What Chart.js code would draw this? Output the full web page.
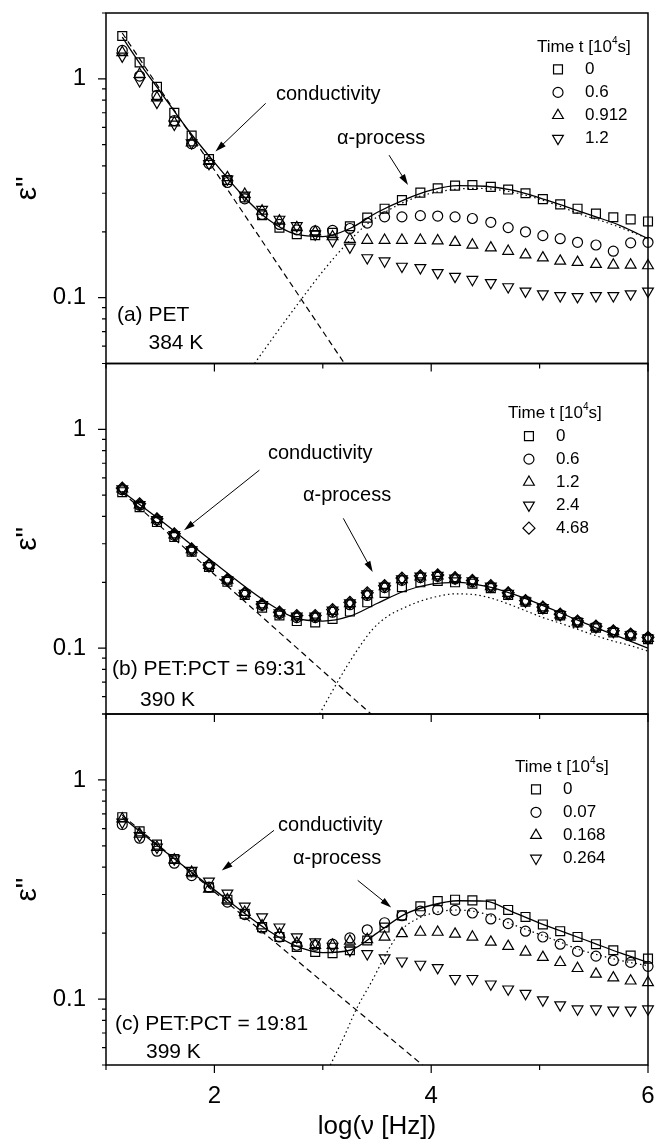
<!DOCTYPE html>
<html>
<head>
<meta charset="utf-8">
<script src="https://cdn.jsdelivr.net/npm/chart.js@4.4.1/dist/chart.umd.min.js"></script>
<style>
  html, body { margin: 0; padding: 0; background: #fff; overflow: hidden; }
  #wrap { position: relative; width: 656px; height: 1142px; }
  #wrap canvas { position: absolute; left: 0; top: 0; }
</style>
</head>
<body>
<div id="wrap">
  <canvas id="panel-a" width="656" height="1142"></canvas>
  <canvas id="panel-b" width="656" height="1142"></canvas>
  <canvas id="panel-c" width="656" height="1142"></canvas>
</div>
<script>
// --- measured frequencies, log(nu [Hz]) ---
const logFreq = [1.15, 1.31, 1.47, 1.63, 1.79, 1.95, 2.12, 2.28, 2.44, 2.60, 2.76, 2.93, 3.09, 3.25, 3.41,
                 3.57, 3.73, 3.90, 4.06, 4.22, 4.38, 4.55, 4.71, 4.87, 5.03, 5.19, 5.35, 5.52, 5.68, 5.84, 6.00];

// --- (a) PET, 384 K ---
const aTimes = ['0', '0.6', '0.912', '1.2'];
const aT0    = [1.57, 1.19, 0.92, 0.70, 0.55, 0.43, 0.345, 0.287, 0.238, 0.209, 0.195, 0.193, 0.198, 0.212, 0.232,
                0.255, 0.279, 0.302, 0.316, 0.325, 0.327, 0.321, 0.312, 0.300, 0.282, 0.267, 0.255, 0.242, 0.233, 0.228, 0.223];
const aT06   = [1.35, 1.03, 0.84, 0.645, 0.505, 0.41, 0.336, 0.283, 0.240, 0.216, 0.204, 0.202, 0.203, 0.207, 0.219,
                0.234, 0.234, 0.237, 0.236, 0.234, 0.230, 0.221, 0.209, 0.200, 0.192, 0.186, 0.179, 0.174, 0.163, 0.178, 0.179];
const aT0912 = [1.32, 1.05, 0.82, 0.63, 0.51, 0.42, 0.354, 0.297, 0.249, 0.224, 0.209, 0.200, 0.190, 0.185, 0.183,
                0.183, 0.183, 0.183, 0.182, 0.179, 0.174, 0.169, 0.163, 0.157, 0.152, 0.147, 0.145, 0.142, 0.141, 0.141, 0.140];
const aT12   = [1.27, 0.98, 0.78, 0.62, 0.51, 0.41, 0.348, 0.294, 0.253, 0.228, 0.213, 0.195, 0.182, 0.170, 0.152,
                0.147, 0.139, 0.137, 0.130, 0.125, 0.121, 0.117, 0.112, 0.107, 0.104, 0.102, 0.101, 0.102, 0.102, 0.104, 0.107];
const aFitX  = [1.15, 1.3, 1.5, 1.75, 2.0, 2.25, 2.5, 2.75, 3.0, 3.25, 3.5, 3.75, 4.0, 4.25, 4.5, 4.75, 5.0, 5.25, 5.5, 5.75, 6.0];
const aFitY  = [1.55, 1.2, 0.875, 0.59, 0.415, 0.297, 0.227, 0.195, 0.19, 0.207, 0.245, 0.28, 0.31, 0.325, 0.323, 0.31, 0.286, 0.26, 0.236, 0.213, 0.186];
const aAlphaX = [2.37, 2.6, 2.8, 3.0, 3.2, 3.4, 3.6, 3.8, 4.0, 4.2, 4.4, 4.6, 4.8, 5.0, 5.2, 5.4, 5.6, 5.8, 6.0];
const aAlphaY = [0.05, 0.072, 0.098, 0.132, 0.172, 0.215, 0.25, 0.28, 0.3, 0.312, 0.316, 0.312, 0.3, 0.282, 0.26, 0.238, 0.222, 0.204, 0.186];
const aCondX = [1.15, 3.2];
const aCondY = [1.62, 0.05];

// --- (b) PET:PCT = 69:31, 390 K ---
const bTimes = ['0', '0.6', '1.2', '2.4', '4.68'];
const bT0    = [0.516, 0.441, 0.377, 0.322, 0.276, 0.235, 0.201, 0.175, 0.153, 0.141, 0.133, 0.131, 0.136, 0.147, 0.162,
                0.179, 0.190, 0.200, 0.203, 0.200, 0.197, 0.188, 0.175, 0.163, 0.151, 0.141, 0.131, 0.124, 0.118, 0.114, 0.110];
const bT06   = [0.53, 0.45, 0.385, 0.328, 0.28, 0.238, 0.204, 0.177, 0.157, 0.144, 0.138, 0.138, 0.146, 0.158, 0.174,
                0.189, 0.204, 0.21, 0.213, 0.207, 0.201, 0.19, 0.177, 0.164, 0.153, 0.142, 0.132, 0.125, 0.119, 0.115, 0.111];
const bT12   = [0.535, 0.452, 0.387, 0.33, 0.282, 0.239, 0.205, 0.178, 0.158, 0.145, 0.139, 0.139, 0.148, 0.16, 0.176,
                0.191, 0.206, 0.212, 0.214, 0.208, 0.202, 0.191, 0.178, 0.164, 0.153, 0.142, 0.132, 0.125, 0.119, 0.115, 0.111];
const bT24   = [0.534, 0.453, 0.386, 0.33, 0.281, 0.238, 0.205, 0.178, 0.158, 0.145, 0.14, 0.14, 0.149, 0.161, 0.177,
                0.192, 0.207, 0.213, 0.215, 0.209, 0.203, 0.192, 0.178, 0.164, 0.153, 0.142, 0.132, 0.125, 0.119, 0.115, 0.111];
const bT468  = [0.539, 0.457, 0.390, 0.333, 0.284, 0.240, 0.206, 0.179, 0.159, 0.146, 0.141, 0.141, 0.150, 0.162, 0.179,
                0.193, 0.209, 0.214, 0.216, 0.210, 0.204, 0.193, 0.179, 0.165, 0.154, 0.143, 0.133, 0.126, 0.120, 0.116, 0.112];
const bFitX  = [1.15, 1.5, 2.0, 2.5, 2.75, 3.0, 3.25, 3.5, 3.75, 4.0, 4.25, 4.5, 4.75, 5.0, 5.25, 5.5, 5.75, 6.0];
const bFitY  = [0.52, 0.385, 0.245, 0.16, 0.137, 0.133, 0.14, 0.16, 0.182, 0.196, 0.2, 0.192, 0.177, 0.159, 0.141, 0.125, 0.112, 0.1];
const bAlphaX = [2.97, 3.15, 3.3, 3.46, 3.6, 3.75, 3.9, 4.05, 4.22, 4.38, 4.54, 4.7, 4.86, 5.03, 5.19, 5.35, 5.52, 5.67, 5.83, 6.0];
const bAlphaY = [0.05, 0.072, 0.095, 0.122, 0.14, 0.153, 0.164, 0.172, 0.177, 0.176, 0.170, 0.160, 0.149, 0.138, 0.130, 0.122, 0.114, 0.108, 0.103, 0.097];
const bCondX = [1.15, 3.445];
const bCondY = [0.515, 0.05];

// --- (c) PET:PCT = 19:81, 399 K ---
const cTimes = ['0', '0.07', '0.168', '0.264'];
const cT0    = [0.676, 0.583, 0.507, 0.436, 0.379, 0.324, 0.284, 0.245, 0.213, 0.192, 0.173, 0.164, 0.162, 0.167, 0.185,
                0.212, 0.241, 0.265, 0.280, 0.284, 0.282, 0.270, 0.255, 0.237, 0.219, 0.204, 0.192, 0.178, 0.167, 0.158, 0.153];
const cT007  = [0.626, 0.542, 0.473, 0.417, 0.366, 0.324, 0.277, 0.243, 0.211, 0.192, 0.176, 0.176, 0.178, 0.190, 0.207,
                0.223, 0.240, 0.252, 0.256, 0.254, 0.247, 0.232, 0.221, 0.204, 0.192, 0.178, 0.165, 0.157, 0.150, 0.147, 0.141];
const cT0168 = [0.664, 0.567, 0.493, 0.432, 0.379, 0.318, 0.284, 0.249, 0.216, 0.198, 0.180, 0.176, 0.176, 0.184, 0.187,
                0.192, 0.199, 0.202, 0.202, 0.198, 0.192, 0.182, 0.174, 0.164, 0.155, 0.147, 0.138, 0.130, 0.125, 0.121, 0.119];
const cT0264 = [0.641, 0.557, 0.493, 0.436, 0.386, 0.345, 0.304, 0.265, 0.237, 0.213, 0.192, 0.182, 0.174, 0.167, 0.161,
                0.154, 0.149, 0.144, 0.139, 0.124, 0.124, 0.117, 0.111, 0.106, 0.099, 0.094, 0.090, 0.090, 0.089, 0.089, 0.090];
const cFitX  = [1.15, 1.5, 2.0, 2.5, 2.75, 3.0, 3.25, 3.5, 3.75, 4.0, 4.25, 4.5, 4.75, 5.0, 5.25, 5.5, 5.75, 6.0];
const cFitY  = [0.675, 0.49, 0.315, 0.205, 0.175, 0.163, 0.167, 0.2, 0.243, 0.268, 0.281, 0.28, 0.25, 0.222, 0.2, 0.18, 0.162, 0.147];
const cAlphaX = [3.07, 3.2, 3.31, 3.45, 3.62, 3.74, 3.9, 4.05, 4.22, 4.38, 4.54, 4.7, 4.86, 5.03, 5.19, 5.35, 5.52, 5.67, 5.83, 6.0];
const cAlphaY = [0.05, 0.068, 0.09, 0.12, 0.173, 0.21, 0.236, 0.249, 0.255, 0.252, 0.241, 0.224, 0.209, 0.195, 0.182, 0.169, 0.16, 0.153, 0.147, 0.142];
const cCondX = [1.15, 3.92];
const cCondY = [0.69, 0.05];

// --- axes ---
const xTicks = [1, 2, 3, 4, 5, 6];
const xLabelled = [2, 4, 6];
const yTicks = [0.05, 0.06, 0.07, 0.08, 0.09, 0.1, 0.2, 0.3, 0.4, 0.5, 0.6, 0.7, 0.8, 0.9, 1, 2];
const yLabelled = [0.1, 1];

const FONT = '"Liberation Sans", Arial, Helvetica, sans-serif';
const W = 656, H = 1142;

const markerStyles = {
  square:   { pointStyle: 'rect', rotation: 0, radius: 6.3 },
  circle:   { pointStyle: 'circle', rotation: 0, radius: 5 },
  triUp:    { pointStyle: 'triangle', rotation: 0, radius: 6.2 },
  triDown:  { pointStyle: 'triangle', rotation: 180, radius: 6.2 },
  diamond:  { pointStyle: 'rectRot', rotation: 0, radius: 6 }
};

const pairs = (xs, ys) => xs.map((x, i) => ({ x: x, y: ys[i] }));

function markerSet(label, ys, kind) {
  const m = markerStyles[kind];
  return {
    label: label,
    data: pairs(logFreq, ys),
    showLine: false,
    pointStyle: m.pointStyle,
    rotation: m.rotation,
    pointRadius: m.radius,
    pointBorderWidth: 1.2,
    pointBorderColor: '#000',
    pointBackgroundColor: 'rgba(0,0,0,0)',
    clip: false,
    _kind: kind
  };
}

function curve(xs, ys, dash, width) {
  return {
    data: pairs(xs, ys),
    showLine: true,
    borderColor: '#000',
    borderWidth: width,
    borderDash: dash,
    pointRadius: 0,
    cubicInterpolationMode: 'monotone'
  };
}

function drawMarker(ctx, kind, x, y) {
  const m = markerStyles[kind];
  if (Chart.helpers && Chart.helpers.drawPoint) {
    Chart.helpers.drawPoint(ctx, { pointStyle: m.pointStyle, rotation: m.rotation, radius: m.radius, borderWidth: 1.2 }, x, y);
    return;
  }
  const r = m.radius;
  ctx.beginPath();
  if (kind === 'circle') ctx.arc(x, y, r, 0, Math.PI * 2);
  else if (kind === 'square') ctx.rect(x - r * 0.707, y - r * 0.707, r * 1.414, r * 1.414);
  else if (kind === 'diamond') { ctx.moveTo(x, y - r); ctx.lineTo(x + r, y); ctx.lineTo(x, y + r); ctx.lineTo(x - r, y); ctx.closePath(); }
  else {
    const s = kind === 'triDown' ? -1 : 1;
    ctx.moveTo(x, y - s * r); ctx.lineTo(x + r * 0.866, y + s * r / 2); ctx.lineTo(x - r * 0.866, y + s * r / 2); ctx.closePath();
  }
  ctx.stroke();
}

// frame, outward ticks, annotations and the time legend
function panelDecor(notes) {
  return {
    id: 'panelDecor',
    afterDraw(chart) {
      const { ctx, chartArea: a } = chart;
      const x = chart.scales.x, y = chart.scales.y;
      ctx.save();
      ctx.strokeStyle = '#000';
      ctx.fillStyle = '#000';

      ctx.lineWidth = 1.5;
      ctx.beginPath();
      ctx.rect(a.left, a.top, a.right - a.left, a.bottom - a.top);
      ctx.stroke();

      ctx.lineWidth = 1.2;
      ctx.beginPath();
      yTicks.forEach(v => {
        const py = y.getPixelForValue(v);
        const len = yLabelled.includes(v) ? 8 : 4;
        ctx.moveTo(a.left - len, py);
        ctx.lineTo(a.left, py);
      });
      xTicks.forEach(v => {
        const px = x.getPixelForValue(v);
        const len = xLabelled.includes(v) ? 8 : 5;
        ctx.moveTo(px, a.bottom);
        ctx.lineTo(px, a.bottom + len);
      });
      ctx.stroke();

      ctx.textBaseline = 'middle';
      ctx.textAlign = 'left';
      notes.texts.forEach(t => {
        ctx.font = t.size + 'px ' + FONT;
        ctx.fillText(t.text, x.getPixelForValue(t.x), y.getPixelForValue(t.y));
      });

      ctx.lineWidth = 1;
      notes.arrows.forEach(ar => {
        const x1 = x.getPixelForValue(ar.x1), y1 = y.getPixelForValue(ar.y1);
        const x2 = x.getPixelForValue(ar.x2), y2 = y.getPixelForValue(ar.y2);
        const ang = Math.atan2(y2 - y1, x2 - x1);
        const L = 11, hw = 3.3;
        ctx.beginPath();
        ctx.moveTo(x1, y1);
        ctx.lineTo(x2 - Math.cos(ang) * 4, y2 - Math.sin(ang) * 4);
        ctx.stroke();
        ctx.beginPath();
        ctx.moveTo(x2, y2);
        ctx.lineTo(x2 - L * Math.cos(ang) + hw * Math.sin(ang), y2 - L * Math.sin(ang) - hw * Math.cos(ang));
        ctx.lineTo(x2 - L * Math.cos(ang) - hw * Math.sin(ang), y2 - L * Math.sin(ang) + hw * Math.cos(ang));
        ctx.closePath();
        ctx.fill();
      });

      // legend
      const lg = notes.legend;
      const lx = x.getPixelForValue(lg.x), ly = y.getPixelForValue(lg.y);
      let tx = lx;
      ctx.font = '17px ' + FONT;
      ctx.fillText('Time t [10', tx, ly);
      tx += ctx.measureText('Time t [10').width;
      ctx.font = '10px ' + FONT;
      ctx.fillText('4', tx, ly - 6);
      tx += ctx.measureText('4').width;
      ctx.font = '17px ' + FONT;
      ctx.fillText('s]', tx, ly);

      const sets = chart.data.datasets.filter(d => d._kind);
      sets.forEach((d, i) => {
        const ry = ly + 22.5 + i * 23;
        ctx.save();
        ctx.fillStyle = 'rgba(0,0,0,0)';
        ctx.strokeStyle = '#000';
        ctx.lineWidth = 1.2;
        drawMarker(ctx, d._kind, lx + 21, ry);
        ctx.restore();
        ctx.font = '17px ' + FONT;
        ctx.fillText(d.label, lx + 48, ry);
      });
      ctx.restore();
    }
  };
}

function makePanel(canvasId, top, bottom, datasets, notes, isBottom) {
  return new Chart(document.getElementById(canvasId), {
    type: 'scatter',
    data: { datasets: datasets },
    options: {
      responsive: false,
      animation: false,
      devicePixelRatio: 1,
      events: [],
      layout: { padding: { top: top, right: 8, bottom: 0, left: 0 } },
      plugins: { legend: { display: false }, tooltip: { enabled: false } },
      scales: {
        x: {
          type: 'linear',
          min: 1, max: 6,
          grid: { display: false },
          border: { display: false },
          afterFit: s => { s.height = H - bottom; s.paddingLeft = 0; s.paddingRight = 0; },
          ticks: {
            display: isBottom,
            stepSize: 1,
            autoSkip: false,
            maxRotation: 0,
            padding: 9,
            color: '#000',
            font: { family: FONT, size: 24 },
            callback: v => (xLabelled.includes(v) ? String(v) : '')
          },
          title: {
            display: isBottom,
            text: 'log(\u03bd [Hz])',
            color: '#000',
            font: { family: FONT, size: 26 },
            padding: { top: 0, bottom: 0 }
          }
        },
        y: {
          type: 'logarithmic',
          min: 0.05, max: 2,
          grid: { display: false },
          border: { display: false },
          afterFit: s => { s.width = 106; s.paddingTop = 0; s.paddingBottom = 0; },
          ticks: {
            autoSkip: false,
            padding: 12,
            color: '#000',
            font: { family: FONT, size: 24 },
            callback: v => (Math.abs(v - 1) < 1e-9 ? '1' : (Math.abs(v - 0.1) < 1e-9 ? '0.1' : ''))
          },
          title: {
            display: true,
            text: '\u03b5"',
            color: '#000',
            font: { family: FONT, size: 30 },
            padding: { top: 10, bottom: 0 }
          }
        }
      }
    },
    plugins: [panelDecor(notes)]
  });
}

makePanel('panel-a', 13, 363.5, [
  markerSet(aTimes[0], aT0, 'square'),
  markerSet(aTimes[1], aT06, 'circle'),
  markerSet(aTimes[2], aT0912, 'triUp'),
  markerSet(aTimes[3], aT12, 'triDown'),
  curve(aFitX, aFitY, [], 1.3),
  curve(aAlphaX, aAlphaY, [1.5, 3], 1.2),
  curve(aCondX, aCondY, [6, 4], 1.2)
], {
  texts: [
    { text: 'conductivity', x: 2.568, y: 0.852, size: 20 },
    { text: '\u03b1-process', x: 3.131, y: 0.536, size: 20 },
    { text: '(a) PET', x: 1.101, y: 0.083, size: 21 },
    { text: '384 K', x: 1.392, y: 0.0618, size: 21 }
  ],
  arrows: [
    { x1: 2.473, y1: 0.773, x2: 2.010, y2: 0.466 },
    { x1: 3.611, y1: 0.448, x2: 3.786, y2: 0.327 }
  ],
  legend: { x: 4.976, y: 1.40 }
}, false);

makePanel('panel-b', 363.5, 714, [
  markerSet(bTimes[0], bT0, 'square'),
  markerSet(bTimes[1], bT06, 'circle'),
  markerSet(bTimes[2], bT12, 'triUp'),
  markerSet(bTimes[3], bT24, 'triDown'),
  markerSet(bTimes[4], bT468, 'diamond'),
  curve(bFitX, bFitY, [], 1.3),
  curve(bAlphaX, bAlphaY, [1.5, 3], 1.2),
  curve(bCondX, bCondY, [6, 4], 1.2)
], {
  texts: [
    { text: 'conductivity', x: 2.494, y: 0.776, size: 20 },
    { text: '\u03b1-process', x: 2.817, y: 0.50, size: 20 },
    { text: '(b) PET:PCT = 69:31', x: 1.055, y: 0.0805, size: 21 },
    { text: '390 K', x: 1.314, y: 0.0577, size: 21 }
  ],
  arrows: [
    { x1: 2.415, y1: 0.651, x2: 1.72, y2: 0.346 },
    { x1: 3.189, y1: 0.392, x2: 3.46, y2: 0.223 }
  ],
  legend: { x: 4.708, y: 1.18 }
}, false);

makePanel('panel-c', 714, 1065, [
  markerSet(cTimes[0], cT0, 'square'),
  markerSet(cTimes[1], cT007, 'circle'),
  markerSet(cTimes[2], cT0168, 'triUp'),
  markerSet(cTimes[3], cT0264, 'triDown'),
  curve(cFitX, cFitY, [], 1.3),
  curve(cAlphaX, cAlphaY, [1.5, 3], 1.2),
  curve(cCondX, cCondY, [6, 4], 1.2)
], {
  texts: [
    { text: 'conductivity', x: 2.587, y: 0.621, size: 20 },
    { text: '\u03b1-process', x: 2.725, y: 0.437, size: 20 },
    { text: '(c) PET:PCT = 19:81', x: 1.083, y: 0.0768, size: 21 },
    { text: '399 K', x: 1.369, y: 0.0569, size: 21 }
  ],
  arrows: [
    { x1: 2.55, y1: 0.589, x2: 2.068, y2: 0.386 },
    { x1: 3.322, y1: 0.348, x2: 3.631, y2: 0.262 }
  ],
  legend: { x: 4.773, y: 1.148 }
}, true);
</script>
</body>
</html>
